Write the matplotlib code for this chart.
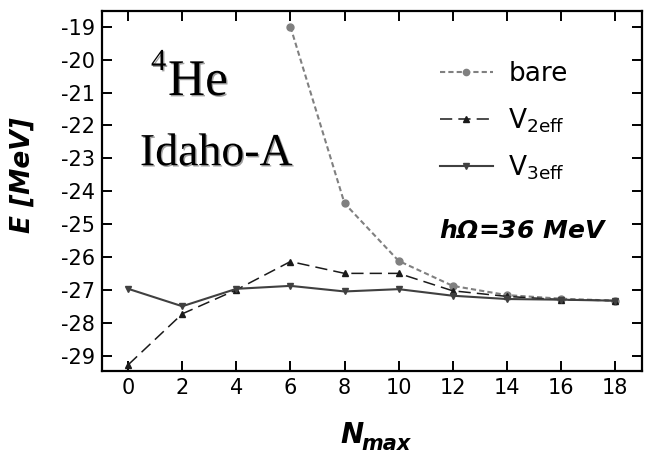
import matplotlib
matplotlib.use("Agg")
import matplotlib.pyplot as plt
import matplotlib.patheffects as pe

plt.rcParams['font.family'] = ['DejaVu Sans']
plt.rcParams['mathtext.default'] = 'regular'

nmax = [0, 2, 4, 6, 8, 10, 12, 14, 16, 18]
nmax_bare = [6, 8, 10, 12, 14, 16, 18]
e_bare = [-19.0, -24.37, -26.12, -26.88, -27.16, -27.27, -27.33]
e_v2eff = [-29.28, -27.73, -27.0, -26.14, -26.5, -26.5, -27.03, -27.2, -27.3, -27.33]
e_v3eff = [-26.97, -27.5, -26.97, -26.88, -27.05, -26.98, -27.18, -27.28, -27.3, -27.33]

xticks = [0, 2, 4, 6, 8, 10, 12, 14, 16, 18]
yticks = [-19, -20, -21, -22, -23, -24, -25, -26, -27, -28, -29]

fig = plt.figure(figsize=(6.55, 4.55), dpi=100)
ax = fig.add_axes([0.1557, 0.1853, 0.824, 0.7912])

ax.plot(nmax_bare, e_bare, color='#808080', lw=1.5, dashes=(2.5, 1.5),
        marker='o', ms=5, label='bare')
ax.plot(nmax, e_v2eff, color='#1a1a1a', lw=1.1, dashes=(8, 4),
        marker='^', ms=5, label=r'V$_{2eff}$')
ax.plot(nmax, e_v3eff, color='#404040', lw=1.5, ls='-',
        marker='v', ms=5, label=r'V$_{3eff}$')

ax.set_xlim(-0.97, 18.99)
ax.set_ylim(-29.46, -18.51)
ax.set_xticks(xticks)
ax.set_yticks(yticks)
ax.set_yticklabels([str(t) for t in yticks])
ax.tick_params(direction='in', length=7.5, width=1.4, labelsize=15,
               top=True, right=True, pad=5)
for s in ax.spines.values():
    s.set_linewidth(1.6)

# axis labels
ax.set_ylabel('E [MeV]', fontsize=19, fontweight='bold', fontstyle='italic')
ax.yaxis.set_label_coords(-0.122, 0.544)
fig.text(340 / 655, (455 - 443) / 455, 'N', fontsize=20, fontweight='bold',
         fontstyle='italic', va='baseline', ha='left')
fig.text(361 / 655, (455 - 450) / 455, 'max', fontsize=15, fontweight='bold',
         fontstyle='italic', va='baseline', ha='left')

shadow = [pe.SimplePatchShadow(offset=(1.0, -1.0), shadow_rgbFace='#a0a0a0', alpha=1.0),
          pe.Normal()]
ax.text((151 - 102) / 539.7, (370.7 - 70) / 360, '4', transform=ax.transAxes,
        fontsize=22, family='Liberation Serif', ha='left', va='baseline',
        path_effects=shadow)
ax.text((168 - 102) / 539.7, (370.7 - 95) / 360, 'He', transform=ax.transAxes,
        fontsize=37, family='Liberation Serif', ha='left', va='baseline',
        path_effects=shadow)
ax.text(0.212, 0.571, 'Idaho-A', transform=ax.transAxes, fontsize=33,
        family='Liberation Serif', ha='center', va='baseline', path_effects=shadow)

ax.text(0.781, 0.369, r'h$\Omega$=36 MeV', transform=ax.transAxes, fontsize=18,
        fontweight='bold', fontstyle='italic', ha='center', va='baseline')

leg = ax.legend(loc='upper left', bbox_to_anchor=(0.626, 0.86), frameon=False,
                fontsize=19, handlelength=2.0, handletextpad=0.6,
                labelspacing=0.72, borderpad=0, borderaxespad=0, markerscale=0.9)

fig.savefig('out.png', dpi=100)
